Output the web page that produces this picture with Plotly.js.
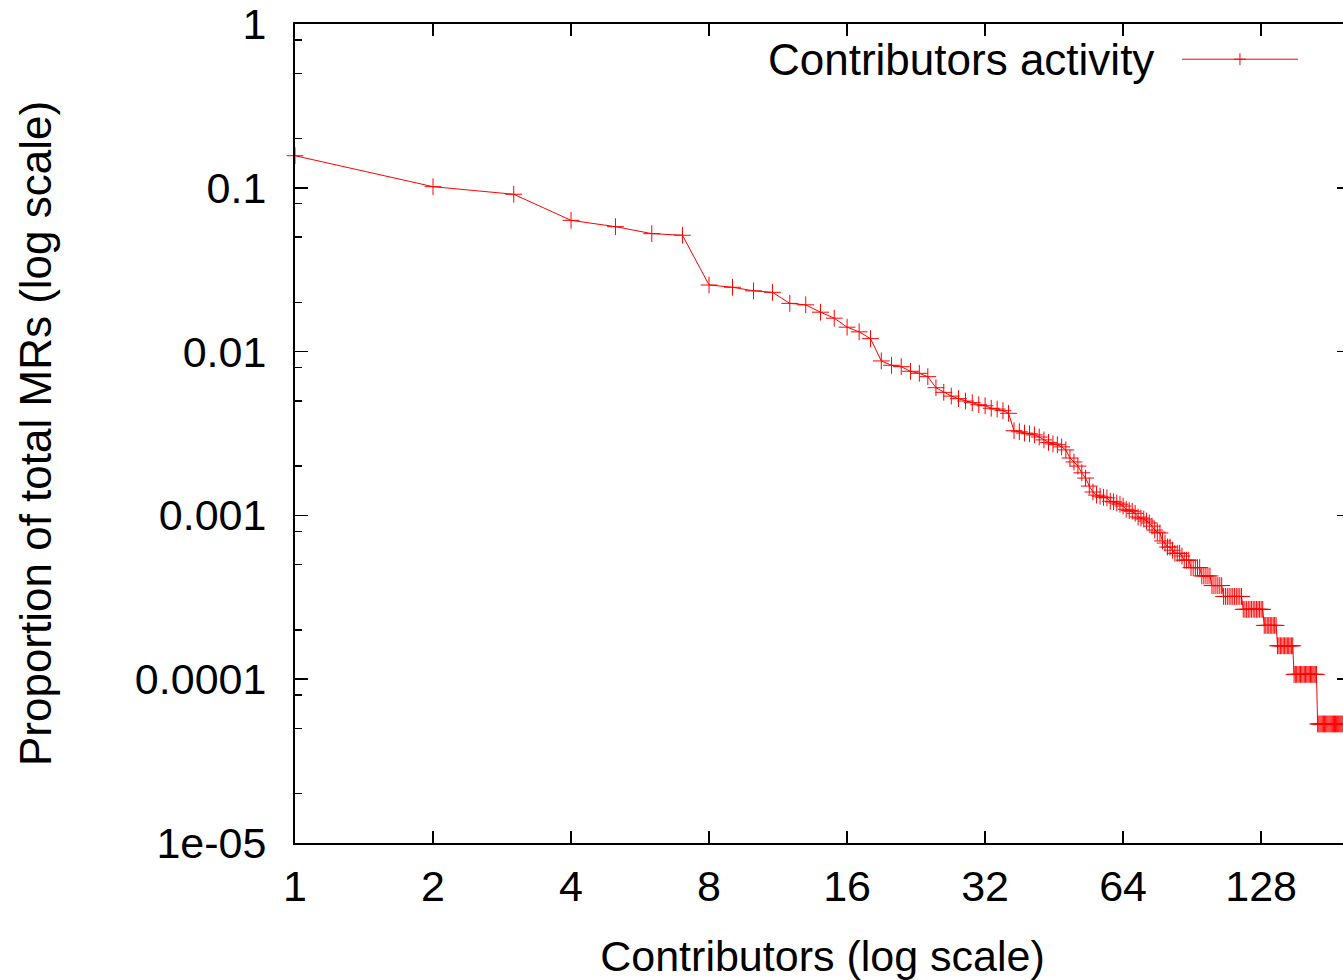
<!DOCTYPE html>
<html>
<head>
<meta charset="utf-8">
<script src="https://cdn.plot.ly/plotly-3.0.1.min.js"></script>
<style>
html, body { margin: 0; padding: 0; background: #fff; overflow: hidden; }
#chart { width: 1360px; height: 980px; }
</style>
</head>
<body>
<div id="chart"></div>
<script>
// Proportion of total MRs for each contributor, ordered by rank (1 = most active)
const proportions = [
  0.157, 0.1016, 0.0913, 0.0633, 0.0579, 0.0525, 0.0513, 0.0255, 0.0247, 0.0235,
  0.0230, 0.0197, 0.0193, 0.0174, 0.0160, 0.0141, 0.0132, 0.0120, 0.00877, 0.00825,
  0.00809, 0.00758, 0.00737, 0.00703, 0.00602, 0.00564, 0.00535, 0.00516, 0.00499, 0.00488,
  0.00474, 0.00467, 0.00451, 0.00446, 0.00436, 0.00420, 0.00329, 0.00324, 0.00318, 0.00315,
  0.00310, 0.00301, 0.00289, 0.00279, 0.00273, 0.00270, 0.00262, 0.00251, 0.00224, 0.00212,
  0.00200, 0.00182, 0.00169, 0.00151, 0.00139, 0.00133, 0.00131, 0.00129, 0.00128, 0.00122,
  0.00121, 0.00119, 0.00117, 0.00114, 0.00109, 0.00107, 0.00106, 0.00103, 0.000977, 0.000963,
  0.000950, 0.000924, 0.000899, 0.000860, 0.000814, 0.000790, 0.000781, 0.000698, 0.000678, 0.000641,
  0.000641, 0.000613, 0.000587, 0.000587, 0.000587, 0.000565, 0.000533, 0.000533, 0.000533, 0.000480,
  0.000480, 0.000480, 0.000480, 0.000480, 0.000427, 0.000427, 0.000427, 0.000427, 0.000427, 0.000373,
  0.000373, 0.000373, 0.000373, 0.000373, 0.000373, 0.000320, 0.000320, 0.000320, 0.000320, 0.000320,
  0.000320, 0.000320, 0.000320, 0.000320, 0.000320, 0.000320, 0.000267, 0.000267, 0.000267, 0.000267,
  0.000267, 0.000267, 0.000267, 0.000267, 0.000267, 0.000267, 0.000267, 0.000267, 0.000267, 0.000213,
  0.000213, 0.000213, 0.000213, 0.000213, 0.000213, 0.000213, 0.000213, 0.000213, 0.000160, 0.000160,
  0.000160, 0.000160, 0.000160, 0.000160, 0.000160, 0.000160, 0.000160, 0.000160, 0.000160, 0.000160,
  0.000107, 0.000107, 0.000107, 0.000107, 0.000107, 0.000107, 0.000107, 0.000107, 0.000107, 0.000107,
  0.000107, 0.000107, 0.000107, 0.000107, 0.000107, 0.000107, 0.000107, 0.000107, 0.000107, 0.0000533,
  0.0000533, 0.0000533, 0.0000533, 0.0000533, 0.0000533, 0.0000533, 0.0000533, 0.0000533, 0.0000533, 0.0000533,
  0.0000533, 0.0000533, 0.0000533, 0.0000533, 0.0000533, 0.0000533, 0.0000533, 0.0000533, 0.0000533, 0.0000533,
  0.0000533, 0.0000533, 0.0000533, 0.0000533, 0.0000533, 0.0000533, 0.0000533, 0.0000533, 0.0000533, 0.0000533
];
const contributorRanks = proportions.map((_, i) => i + 1);

const xTickValues = [1, 2, 4, 8, 16, 32, 64, 128];
const xTickLabels = ['1', '2', '4', '8', '16', '32', '64', '128'];
const yTickValues = [1e-5, 1e-4, 1e-3, 1e-2, 1e-1, 1];
const yTickLabels = ['1e-05', '0.0001', '0.001', '0.01', '0.1', '1'];
const yMinorTickValues = [2e-5, 5e-5, 8e-5, 2e-4, 5e-4, 8e-4, 2e-3, 5e-3, 8e-3, 2e-2, 5e-2, 8e-2, 0.2, 0.5, 0.8];

const seriesName = 'Contributors activity';
const xTitle = 'Contributors (log scale)';
const yTitle = 'Proportion of total MRs (log scale)';

const FONT = '"Liberation Sans", Arial, Helvetica, sans-serif';
const RED = '#ff0000';

const trace = {
  x: contributorRanks,
  y: proportions,
  type: 'scatter',
  mode: 'lines+markers',
  name: seriesName,
  cliponaxis: false,
  line: { color: RED, width: 1 },
  marker: { symbol: 'cross-thin', size: 12, line: { color: RED, width: 1 }, color: RED }
};

const legendX = 0.8957, legendY = 0.957;

const layout = {
  width: 1360,
  height: 980,
  margin: { l: 295, r: 10, t: 24, b: 137, pad: 0 },
  paper_bgcolor: '#ffffff',
  plot_bgcolor: '#ffffff',
  showlegend: false,
  font: { family: FONT, size: 43, color: '#000' },
  xaxis: {
    type: 'log',
    range: [0, Math.log10(200)],
    tickmode: 'array',
    tickvals: xTickValues,
    ticktext: xTickLabels,
    ticks: 'inside',
    ticklen: 12,
    tickwidth: 1.5,
    tickcolor: '#000',
    showline: true,
    linecolor: '#000',
    linewidth: 2,
    mirror: 'ticks',
    showgrid: false,
    zeroline: false,
    ticklabelstandoff: 4,
    tickfont: { family: FONT, size: 43, color: '#000' },
    title: { text: xTitle, font: { family: FONT, size: 43, color: '#000' }, standoff: 40 },
    automargin: false
  },
  yaxis: {
    type: 'log',
    range: [-5, 0],
    tickmode: 'array',
    tickvals: yTickValues,
    ticktext: yTickLabels,
    ticks: 'inside',
    ticklen: 13,
    tickwidth: 1.5,
    tickcolor: '#000',
    minor: { tickmode: 'array', tickvals: yMinorTickValues, ticks: 'inside', ticklen: 7, tickwidth: 1.5, tickcolor: '#000', showgrid: false },
    showline: true,
    linecolor: '#000',
    linewidth: 2,
    mirror: 'ticks',
    showgrid: false,
    zeroline: false,
    ticklabelstandoff: 18,
    tickfont: { family: FONT, size: 43, color: '#000' },
    title: { text: yTitle, font: { family: FONT, size: 44, color: '#000' }, standoff: 69 },
    automargin: false
  },
  annotations: [
    {
      xref: 'paper', yref: 'paper', x: 0.8161, y: legendY,
      xanchor: 'right', yanchor: 'middle', showarrow: false,
      text: seriesName, font: { family: FONT, size: 44, color: '#000' }
    }
  ],
  shapes: [
    { type: 'line', xref: 'paper', yref: 'paper', x0: 0.8408, x1: 0.9507, y0: legendY, y1: legendY,
      line: { color: RED, width: 1 } },
    { type: 'path', xref: 'paper', yref: 'paper', xsizemode: 'pixel', ysizemode: 'pixel',
      xanchor: legendX, yanchor: legendY, path: 'M-6,0 L6,0 M0,-6 L0,6',
      line: { color: RED, width: 1 } }
  ]
};

Plotly.newPlot('chart', [trace], layout, { displayModeBar: false, staticPlot: true });
</script>
</body>
</html>
